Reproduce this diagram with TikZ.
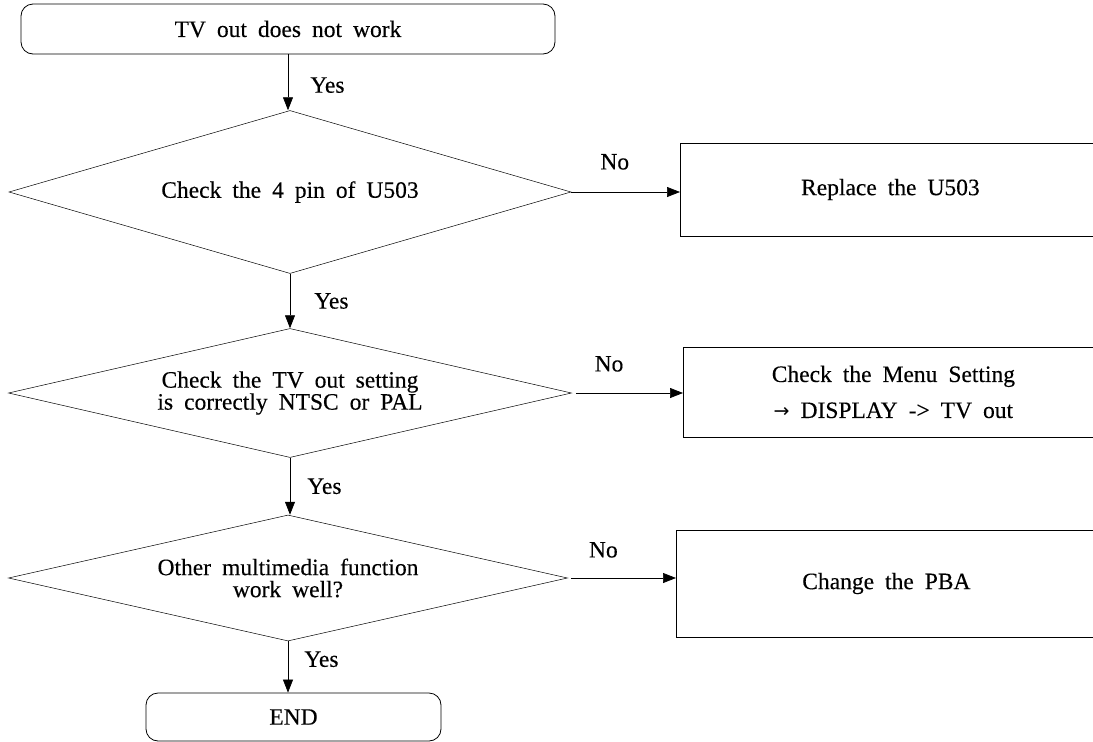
\documentclass[tikz,border=0pt]{standalone}
\usepackage{fontspec}
\setmainfont[FakeBold=0.3]{Liberation Serif}
\newfontfamily\arrowfont{DejaVu Sans}
\usepackage{tikz}
\usetikzlibrary{arrows.meta,shapes.geometric}
\newcommand\flowfont{\fontsize{23.5}{22}\selectfont\spaceskip=11pt\relax}

\begin{document}
\begin{tikzpicture}[x=1pt,y=-1pt,
  font=\flowfont,
  terminal/.style={draw,line width=0.8pt,rounded corners=12pt,align=center},
  decision/.style={draw,line width=0.5pt,diamond,aspect=3.5,inner sep=0pt,align=center},
  action/.style={draw,line width=0.8pt,minimum width=420pt,align=center},
  arrow/.style={-{Triangle[length=13pt,width=10pt]},line width=0.7pt},
  lbl/.style={inner sep=0pt}
]
\clip (0,0) rectangle (1093,742);
\node[terminal,minimum width=534pt,minimum height=50pt] (start) at (288,29) {TV out does not work};
\node[decision,minimum width=562pt,minimum height=163pt] (pin) at (290,192) {Check the 4 pin of U503};
\node[decision,minimum width=563pt,minimum height=129pt] (tvset) at (290,393) {Check the TV out setting\\is correctly NTSC or PAL};
\node[decision,minimum width=559pt,minimum height=126pt] (media) at (288,578) {Other multimedia function\\work well?};
\node[terminal,minimum width=295pt,minimum height=48pt] (end) at (293.5,717) {END};
\node[action,minimum height=93pt,anchor=west] (replace) at (680,189.5) {Replace the U503};
\node[action,minimum height=90pt,anchor=west] (menu) at (683,392) {Check the Menu Setting\\[14pt]{\arrowfont\fontsize{19}{20}\selectfont →} DISPLAY -> TV out};
\node[action,minimum height=107pt,anchor=west] (pba) at (676,583.5) {Change the PBA};

\draw[arrow] (start.south) -- node[lbl,right=22pt,pos=0.55]{Yes} (start.south |- pin.north);
\draw[arrow] (pin.south) -- node[lbl,right=24pt,pos=0.5]{Yes} (tvset.north);
\draw[arrow] (tvset.south) -- node[lbl,right=17pt,pos=0.5]{Yes} (tvset.south |- media.north);
\draw[arrow] (media.south) -- node[lbl,right=16pt,pos=0.35]{Yes} (media.south |- end.north);
\draw[arrow] (pin.east) -- node[lbl,above=22pt,pos=0.4]{No} (pin.east -| replace.west);
\draw[arrow] ([xshift=4pt]tvset.east) -- node[lbl,above=21pt,pos=0.31]{No} (tvset.east -| menu.west);
\draw[arrow] ([xshift=3pt]media.east) -- node[lbl,above=20pt,pos=0.31]{No} (media.east -| pba.west);
\end{tikzpicture}
\end{document}
